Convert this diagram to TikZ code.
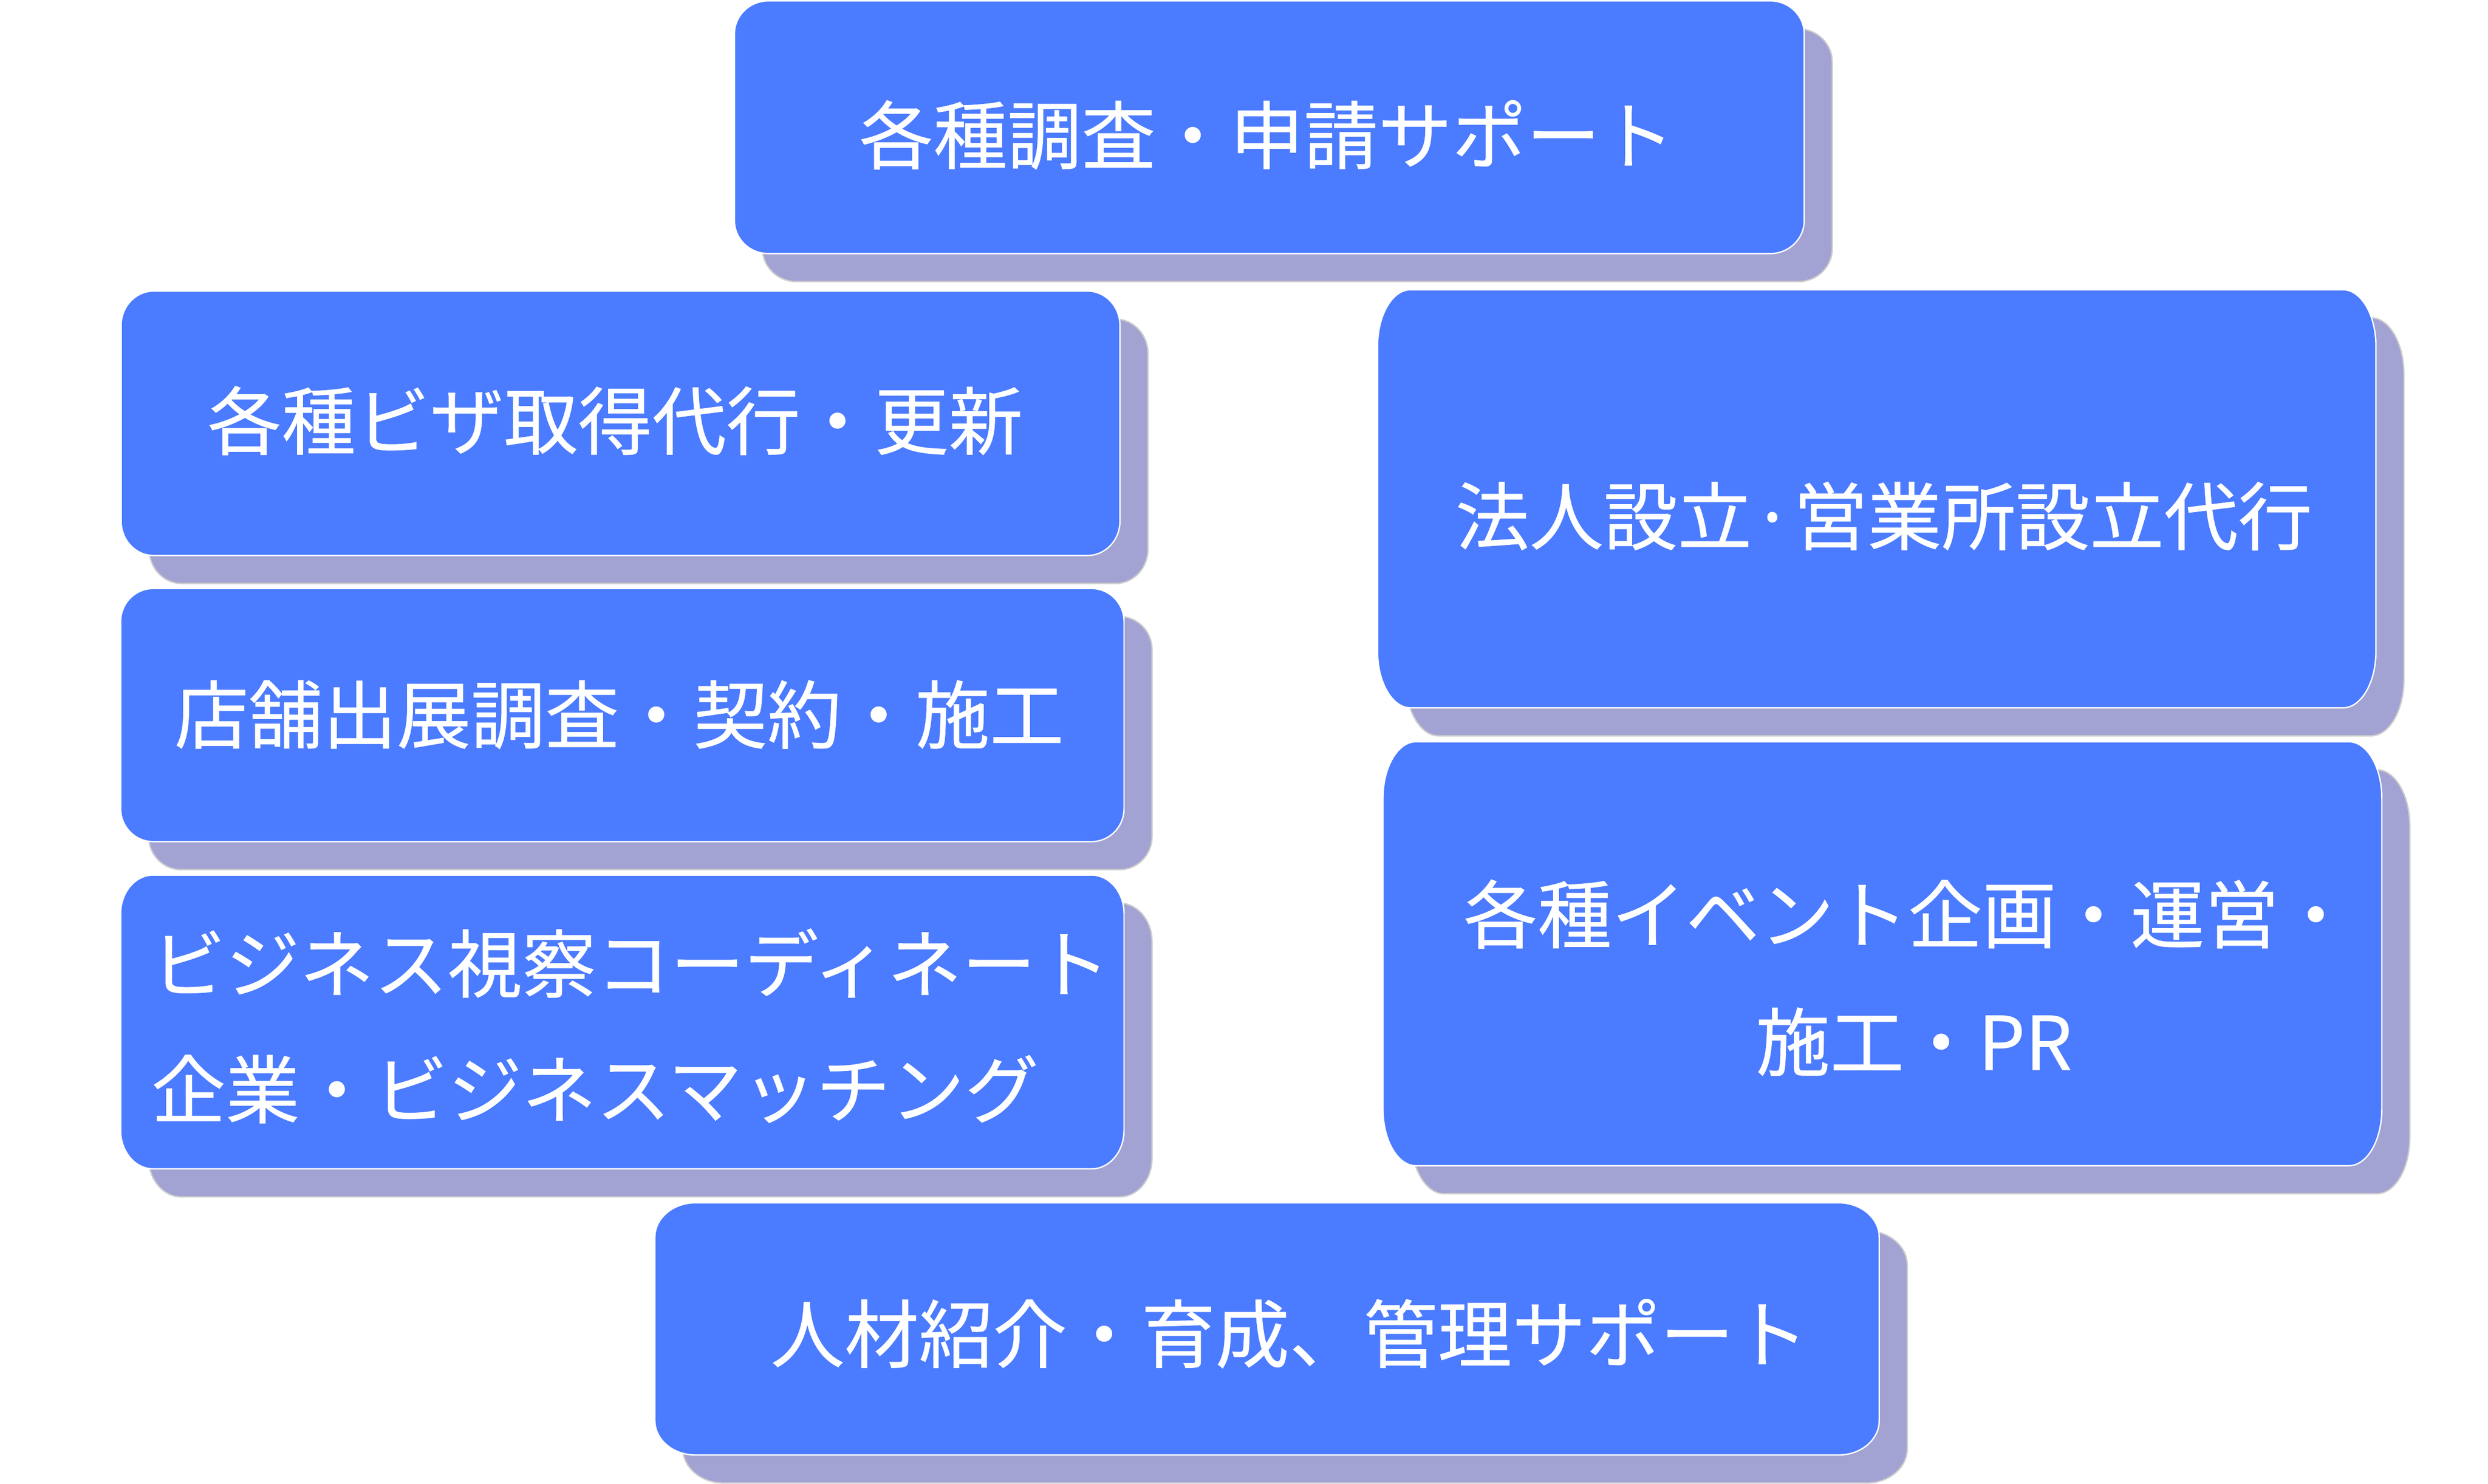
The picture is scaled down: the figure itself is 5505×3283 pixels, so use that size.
\documentclass[tikz,border=0pt]{standalone}
\usepackage{fontspec}
\setmainfont{Noto Sans CJK JP}[FakeBold=0.5]
\definecolor{boxblue}{HTML}{4B7BFF}
\definecolor{shadowc}{HTML}{A3A3D3}
\definecolor{shadowline}{HTML}{CDCDCD}
% elliptical-corner rounded rectangle: #1 style, #2 x1, #3 y1, #4 x2, #5 y2, #6 rx, #7 ry
\newcommand\ellrect[7]{%
  \path[#1] ({#2+#6},#3) -- ({#4-#6},#3)
    .. controls ({#4-0.4477*#6},#3) and (#4,{#3+0.4477*#7}) .. (#4,{#3+#7})
    -- (#4,{#5-#7})
    .. controls (#4,{#5-0.4477*#7}) and ({#4-0.4477*#6},#5) .. ({#4-#6},#5)
    -- ({#2+#6},#5)
    .. controls ({#2+0.4477*#6},#5) and (#2,{#5-0.4477*#7}) .. (#2,{#5-#7})
    -- (#2,{#3+#7})
    .. controls (#2,{#3+0.4477*#7}) and ({#2+0.4477*#6},#3) .. ({#2+#6},#3) -- cycle;}
% service box: #1 name, #2 x1, #3 y1, #4 x2, #5 y2, #6 rx, #7 ry
\newcommand\svcbox[7]{%
  \ellrect{shadowstyle}{#2+62}{#3+62}{#4+62}{#5+62}{#6}{#7}%
  \ellrect{boxstyle}{#2}{#3}{#4}{#5}{#6}{#7}%
  \node[boxarea, minimum width={(#4-#2)*1pt}, minimum height={(#5-#3)*1pt}] (#1) at ({(#2+#4)/2},{(#3+#5)/2}) {};}
\begin{document}
\begin{tikzpicture}[x=1pt,y=-1pt,
  shadowstyle/.style={fill=shadowc, draw=shadowline, line width=3pt},
  boxstyle/.style={fill=boxblue, draw=white, line width=3pt},
  boxarea/.style={inner sep=0pt, outer sep=0pt},
  txt/.style={text=white, inner sep=0pt, font=\fontsize{164}{280}\selectfont}]
\useasboundingbox (0,0) rectangle (5505,3283);
\fill[white] (0,0) rectangle (5505,3283);

\svcbox{b1}{1625}{2}{3992}{561}{75}{73}
\svcbox{b2}{268}{644}{2478}{1229}{72}{76}
\svcbox{b3}{3048}{641}{5257}{1566}{73}{125}
\svcbox{b4}{267}{1302}{2487}{1862}{72}{73}
\svcbox{b5}{267}{1936}{2487}{2586}{72}{85}
\svcbox{b6}{3060}{1641}{5270}{2579}{73}{125}
\svcbox{b7}{1449}{2661}{4158}{3219}{90}{76}

\node[txt, anchor=base] (t1) at (2803,361) {各種調査・申請サポート};
\node[txt, anchor=base] (t2) at (1361,993) {各種ビザ取得代行・更新};
\node[txt, anchor=base] (t3) at (4168,1204) {法人設立·営業所設立代行};
\node[txt, anchor=base] (t4) at (1370,1643) {店舗出展調査・契約・施工};
\node[txt, anchor=base west] (t5a) at (335,2194) {ビジネス視察コーディネート};
\node[txt, anchor=base west] (t5b) at (335,2472) {企業・ビジネスマッチング};
\node[txt, anchor=base] (t6a) at (4222,2085) {各種イベント企画・運営・};
\node[txt, anchor=base] (t6b) at (4235,2367) {施工・PR};
\node[txt, anchor=base] (t7) at (2853,3013) {人材紹介・育成、管理サポート};
\end{tikzpicture}
\end{document}
